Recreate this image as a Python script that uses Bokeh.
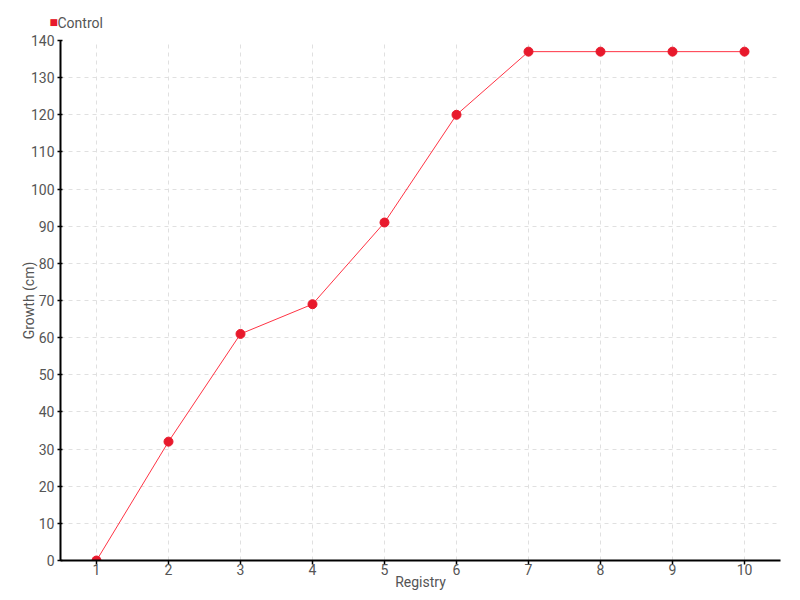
from bokeh.plotting import figure
from bokeh.models import Range1d, FixedTicker, ColumnDataSource, Title
from bokeh.embed import file_html
from bokeh.resources import INLINE

registry = [1, 2, 3, 4, 5, 6, 7, 8, 9, 10]
growth = [0, 32, 61, 69, 91, 120, 137, 137, 137, 137]
y_ticks = list(range(0, 141, 10))
series_name = "Control"

FONT = "Roboto"
TXT = "#555555"
RED = "#e8192c"

p = figure(frame_width=720, frame_height=520, output_backend="svg", toolbar_location=None,
           x_range=Range1d(0.5, 10.5), y_range=Range1d(0, 140),
           min_border_left=60, min_border_right=20, min_border_top=40, min_border_bottom=40)
p.outline_line_color = None

src = ColumnDataSource(dict(x=registry, y=growth))
p.line("x", "y", source=src, line_color="#ff3344", line_width=1)
p.scatter("x", "y", source=src, size=9, fill_color=RED, line_color=RED)

for ax in (p.xaxis[0], p.yaxis[0]):
    ax.axis_line_color = "black"
    ax.axis_line_width = 2
    ax.major_tick_line_color = "black"
    ax.major_tick_line_width = 1.5
    ax.minor_tick_line_color = None
    ax.major_label_text_font = FONT
    ax.major_label_text_font_size = "14px"
    ax.major_label_text_color = TXT
    ax.axis_label_text_font = FONT
    ax.axis_label_text_font_size = "14px"
    ax.axis_label_text_color = TXT
    ax.axis_label_text_font_style = "normal"

p.xaxis.ticker = FixedTicker(ticks=registry)
p.yaxis.ticker = FixedTicker(ticks=y_ticks)
p.xaxis.major_tick_in = 0
p.xaxis.major_tick_out = 4
p.yaxis.major_tick_in = 2
p.yaxis.major_tick_out = 3
p.xaxis.major_label_standoff = -1
p.yaxis.major_label_standoff = 3
p.xaxis.axis_label = "Registry"
p.yaxis.axis_label = "Growth (cm)"
p.xaxis.axis_label_standoff = -4
p.yaxis.axis_label_standoff = -9

for g in (p.xgrid[0], p.ygrid[0]):
    g.grid_line_color = "#e0e0e0"
    g.grid_line_dash = "4 4"
    g.grid_line_width = 1

# legend built from two titles: the label text (inner) and the red square (outer)
label_title = Title(text=series_name, text_font=FONT, text_font_size="14px",
                    text_font_style="normal", text_color=TXT, align="left",
                    offset=-3, standoff=20)
p.add_layout(label_title, "above")

p.title.text = "\u25a0"
p.title.text_font = "DejaVu Sans"
p.title.text_font_size = "9px"
p.title.text_font_style = "normal"
p.title.text_color = RED
p.title.align = "left"
p.title.offset = -11
p.title.standoff = -48

open("out.html", "w").write(file_html(p, INLINE))
